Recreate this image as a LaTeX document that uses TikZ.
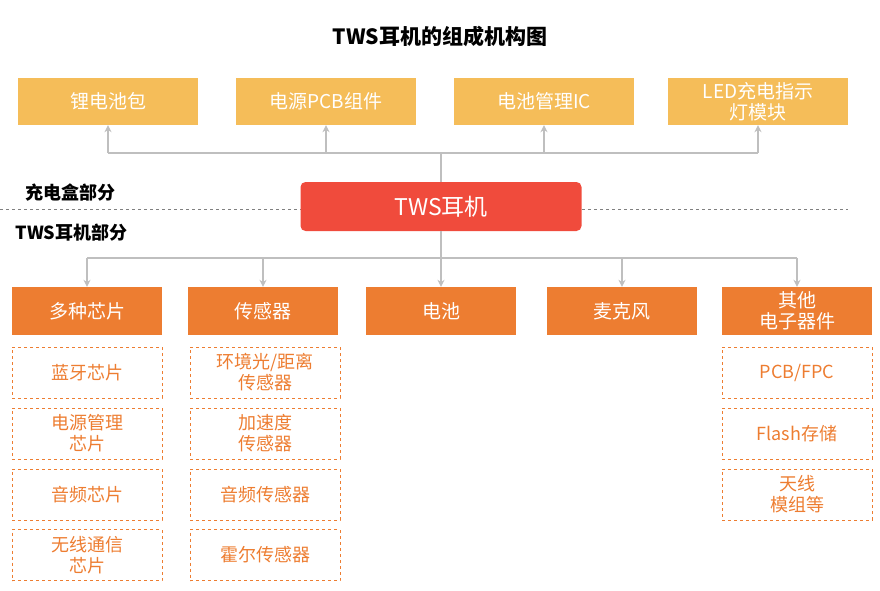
\documentclass[tikz,border=0pt]{standalone}
\usepackage{fontspec}
\setmainfont{Noto Sans CJK SC}
\usetikzlibrary{arrows.meta}
\definecolor{yel}{HTML}{F5BD59}
\definecolor{org}{HTML}{ED7D31}
\definecolor{redb}{HTML}{F04B3C}
\definecolor{ln}{HTML}{BFBFBF}
\begin{document}
\begin{tikzpicture}[x=1pt,y=-1pt,
 topbox/.style={fill=yel,minimum width=180,minimum height=47,text=white,font=\fontsize{19}{21}\selectfont,align=center,inner sep=0},
 catbox/.style={fill=org,minimum width=150,minimum height=48,text=white,font=\fontsize{19}{21}\selectfont,align=center,inner sep=0},
 subbox/.style={draw=org,dashed,thick,minimum width=150,minimum height=51,text=org,font=\fontsize{18}{21}\selectfont,align=center,inner sep=0},
 lab/.style={font=\fontsize{18}{20}\selectfont\bfseries},
 conn/.style={draw=ln,line width=1.2pt},
 arr/.style={conn,-{Stealth[length=7pt,width=7pt]}}]
\useasboundingbox (0,0) rectangle (880,591);
\node[font=\fontsize{21}{22}\selectfont\bfseries] (title) at (440,37) {TWS耳机的组成机构图};
\node[topbox] (t1) at (108,101.5) {锂电池包};
\node[topbox] (t2) at (326,101.5) {电源PCB组件};
\node[topbox] (t3) at (544,101.5) {电池管理IC};
\node[topbox] (t4) at (758,101.5) {LED充电指示\\灯模块};
\draw[gray,dashed] (0,209) -- (848,209);
\node[fill=redb,rounded corners=5pt,minimum width=281,minimum height=49,text=white,font=\fontsize{23}{24}\selectfont] (m) at (441,206.5) {TWS耳机};
\node[lab,anchor=west] (l1) at (22,193) {充电盒部分};
\node[lab,anchor=west] (l2) at (12,233) {TWS耳机部分};
\coordinate (ht) at (441,153);
\draw[conn] (m.north) -- (ht);
\draw[conn] (t1.south |- ht) -- (t4.south |- ht);
\foreach \t in {t1,t2,t3,t4} \draw[arr] (\t.south |- ht) -- (\t.south);
\node[catbox] (c1) at (87,311) {多种芯片};
\node[catbox] (c2) at (263,311) {传感器};
\node[catbox] (c3) at (441,311) {电池};
\node[catbox] (c4) at (622,311) {麦克风};
\node[catbox] (c5) at (797,311) {其他\\电子器件};
\coordinate (hb) at (441,258);
\draw[conn] (m.south) -- (hb);
\draw[conn] (c1.north |- hb) -- (c5.north |- hb);
\foreach \c in {c1,c2,c3,c4,c5} \draw[arr] (\c.north |- hb) -- (\c.north);
\node[subbox] (a1) at (87,372.5) {蓝牙芯片};
\node[subbox] (a2) at (87,433.5) {电源管理\\芯片};
\node[subbox] (a3) at (87,494.5) {音频芯片};
\node[subbox] (a4) at (87,555) {无线通信\\芯片};
\node[subbox] (b1) at (265,372.5) {环境光/距离\\传感器};
\node[subbox] (b2) at (265,433.5) {加速度\\传感器};
\node[subbox] (b3) at (265,494.5) {音频传感器};
\node[subbox] (b4) at (265,555) {霍尔传感器};
\node[subbox] (e1) at (797,372.5) {PCB/FPC};
\node[subbox] (e2) at (797,433.5) {Flash存储};
\node[subbox] (e3) at (797,494.5) {天线\\模组等};
\end{tikzpicture}
\end{document}
